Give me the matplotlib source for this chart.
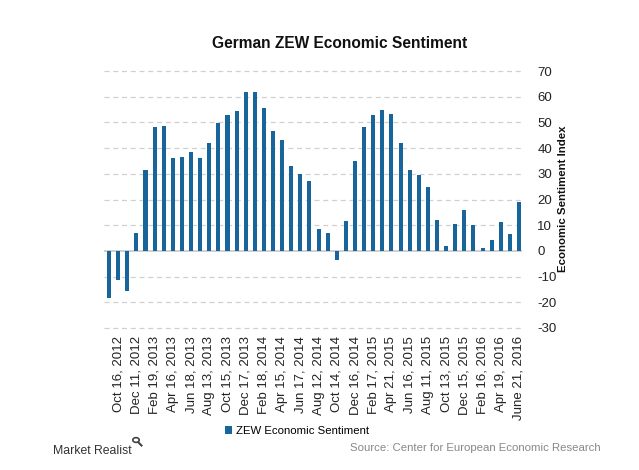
import matplotlib
matplotlib.use("Agg")
import matplotlib.pyplot as plt
from matplotlib.patches import Circle
from matplotlib.lines import Line2D

plt.rcParams['font.family'] = ['Liberation Sans', 'DejaVu Sans']

dates = ["Sep 18, 2012", "Oct 16, 2012", "Nov 13, 2012", "Dec 11, 2012", "Jan 15, 2013",
         "Feb 19, 2013", "Mar 19, 2013", "Apr 16, 2013", "May 14, 2013", "Jun 18, 2013",
         "Jul 16, 2013", "Aug 13, 2013", "Sep 17, 2013", "Oct 15, 2013", "Nov 19, 2013",
         "Dec 17, 2013", "Jan 21, 2014", "Feb 18, 2014", "Mar 18, 2014", "Apr 15, 2014",
         "May 13, 2014", "Jun 17, 2014", "Jul 15, 2014", "Aug 12, 2014", "Sep 16, 2014",
         "Oct 14, 2014", "Nov 18, 2014", "Dec 16, 2014", "Jan 20, 2015", "Feb 17, 2015",
         "Mar 17, 2015", "Apr 21, 2015", "May 19, 2015", "Jun 16, 2015", "Jul 14, 2015",
         "Aug 11, 2015", "Sep 15, 2015", "Oct 13, 2015", "Nov 17, 2015", "Dec 15, 2015",
         "Jan 19, 2016", "Feb 16, 2016", "Mar 15, 2016", "Apr 19, 2016", "May 17, 2016",
         "June 21, 2016"]
values = [-18.2, -11.5, -15.7, 6.9, 31.5, 48.2, 48.5, 36.3, 36.4, 38.5,
          36.3, 42.0, 49.6, 52.8, 54.6, 62.0, 61.7, 55.7, 46.6, 43.2,
          33.1, 29.8, 27.1, 8.6, 6.9, -3.6, 11.5, 34.9, 48.4, 53.0,
          54.8, 53.3, 41.9, 31.5, 29.7, 25.0, 12.1, 1.9, 10.4, 16.1,
          10.2, 1.0, 4.3, 11.2, 6.4, 19.2]
yticks = [-30, -20, -10, 0, 10, 20, 30, 40, 50, 60, 70]

W, H = 639, 470
color = "#17659b"
fig = plt.figure(figsize=(W/100, H/100), dpi=100)
ax = fig.add_axes([104/W, 1-328/H, 418/W, 257/H])

x = list(range(len(values)))
ax.bar(x, values, width=0.45, color=color, zorder=3, label="ZEW Economic Sentiment")
ax.set_xlim(-0.55, len(values) - 0.67)
ax.set_ylim(-30, 70)
ax.set_yticks(yticks)
ax.set_yticklabels([str(t) for t in yticks])
for t in yticks:
    if t != 0:
        ax.axhline(t, color="#d0d0d0", lw=0.9, ls=(0, (4, 3)), zorder=1, clip_on=False)
ax.axhline(0, color="#c8c8c8", lw=1.2, zorder=2)

ax.yaxis.tick_right()
ax.tick_params(axis='y', length=0, labelsize=9.5, pad=11, colors="#222222")
for lbl in ax.get_yticklabels():
    lbl.set_horizontalalignment('left')
fig.text(563/W, 1-199/H, "Economic Sentiment Index", rotation=90, ha='center', va='center',
         fontsize=8.2, fontweight='bold', color="#111111")

ax.set_xticks(x[1::2])
ax.set_xticklabels(dates[1::2], rotation=90, fontsize=9.5)
ax.tick_params(axis='x', length=0, pad=6, colors="#222222")
for s in ax.spines.values():
    s.set_visible(False)

fig.text(340/W, 1-44/H, "German ZEW Economic Sentiment", ha='center', va='center',
         fontsize=11.2, fontweight='bold', color="#111111")

leg = fig.legend(loc='center', bbox_to_anchor=(297/W, 1-431/H), frameon=False,
                 fontsize=8.2, handlelength=0.6, handleheight=0.6, handletextpad=0.3)

fig.text(53/W, 1-451/H, "Market Realist", ha='left', va='center', fontsize=8.8,
         color="#333333")
fig.patches.append(Circle((136/W, 1-440/H), 3.2/W, transform=fig.transFigure,
                          fill=False, ec="#444444", lw=1.2))
fig.lines.append(Line2D([138.5/W, 141.5/W], [1-442.5/H, 1-445.5/H], transform=fig.transFigure,
                        color="#444444", lw=1.5))
fig.text(601/W, 1-448/H, "Source: Center for European Economic Research", ha='right',
         va='center', fontsize=8.2, color="#888888")

fig.savefig("out.png", dpi=100)
